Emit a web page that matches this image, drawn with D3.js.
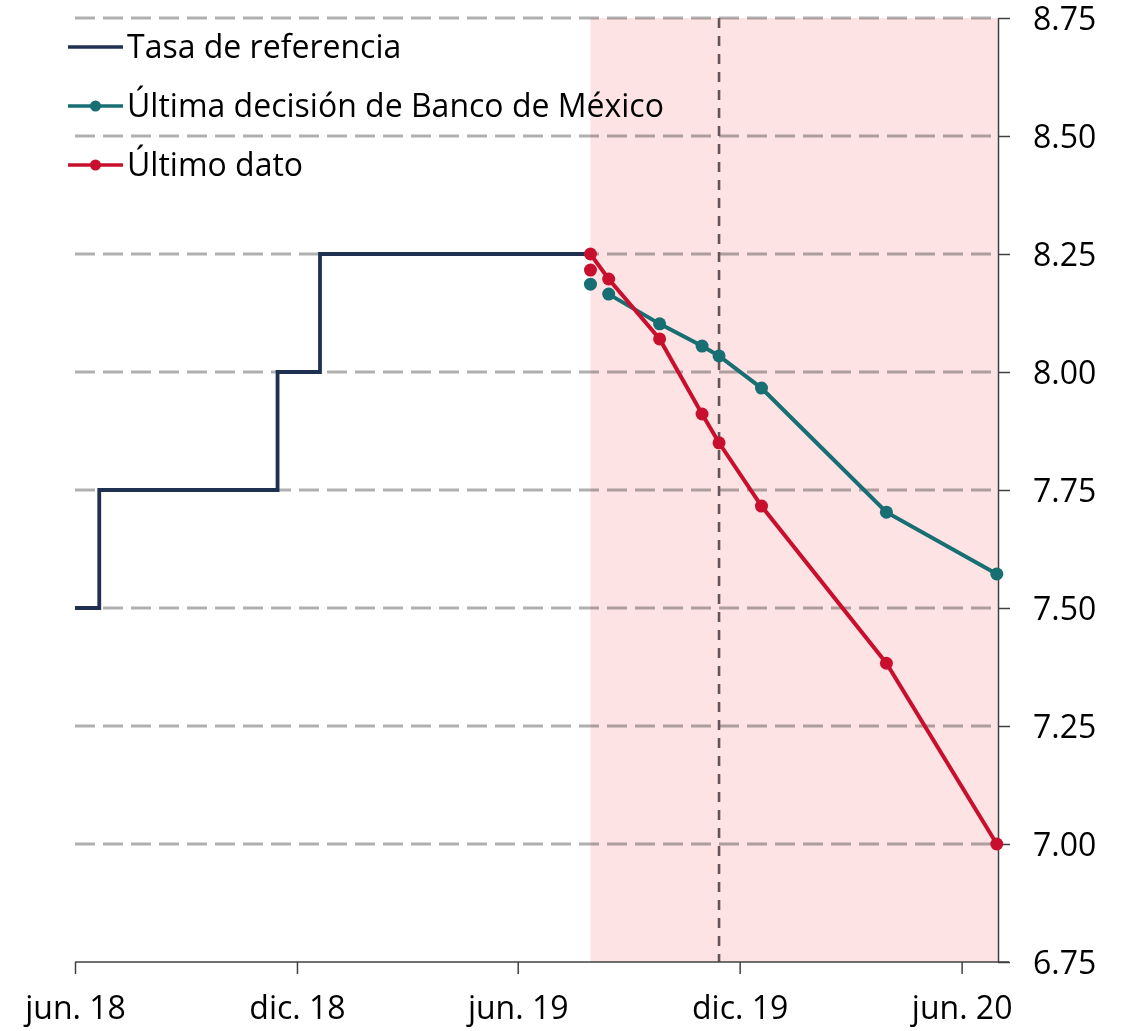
<!DOCTYPE html>
<html>
<head>
<meta charset="utf-8">
<script src="https://cdn.jsdelivr.net/npm/d3@7"></script>
<style>
  html, body { margin: 0; padding: 0; background: #fff; }
  svg { display: block; font-family: "Open Sans", sans-serif; }
</style>
</head>
<body>
<svg id="chart" width="1127" height="1031"></svg>
<script>
// Tasa de referencia (escalones por decisión de política monetaria)
const tasaFechas = ["2018-06-01", "2018-06-21", "2018-11-15", "2018-12-20", "2019-07-31"];
const tasaValores = [7.50, 7.75, 8.00, 8.25, 8.25];

// Trayectoria implícita: última decisión de Banco de México
const decisionFechas = ["2019-08-15", "2019-09-26", "2019-10-31", "2019-11-14", "2019-12-19", "2020-03-31", "2020-06-30"];
const decisionValores = [8.165, 8.102, 8.055, 8.034, 7.966, 7.703, 7.572];

// Trayectoria implícita: último dato
const ultimoFechas = ["2019-07-31", "2019-08-15", "2019-09-26", "2019-10-31", "2019-11-14", "2019-12-19", "2020-03-31", "2020-06-30"];
const ultimoValores = [8.25, 8.197, 8.07, 7.911, 7.85, 7.716, 7.383, 7.00];

// Puntos aislados al inicio del periodo sombreado
const inicioFecha = "2019-07-31";
const inicioDecision = 8.186;
const inicioUltimo = 8.216;

// Periodo sombreado y fecha de la última decisión
const sombraInicio = "2019-07-31";
const sombraFin = "2020-07-01";
const fechaDecision = "2019-11-14";

// Ejes
const xTickFechas = ["2018-06-01", "2018-12-01", "2019-06-01", "2019-12-01", "2020-06-01"];
const xTickEtiquetas = ["jun. 18", "dic. 18", "jun. 19", "dic. 19", "jun. 20"];
const yTicks = [6.75, 7.00, 7.25, 7.50, 7.75, 8.00, 8.25, 8.50, 8.75];

const legendNames = ["Tasa de referencia", "Última decisión de Banco de México", "Último dato"];

const colNavy = "#1f3050";
const colTeal = "#176e73";
const colRed = "#c8102e";

const parse = d3.utcParse("%Y-%m-%d");
const svg = d3.select("#chart");

const mLeft = 75, mRight = 998, mTop = 18, mBottom = 962;

const x = d3.scaleUtc()
  .domain([parse("2018-06-01"), parse(sombraFin)])
  .range([mLeft, mRight]);
const y = d3.scaleLinear().domain([6.75, 8.75]).range([mBottom, mTop]);

// Líneas de cuadrícula horizontales
const grid = svg.append("g");
grid.selectAll("line")
  .data(yTicks.filter(v => v > 6.75))
  .join("line")
  .attr("x1", mLeft).attr("x2", mRight)
  .attr("y1", d => y(d)).attr("y2", d => y(d))
  .attr("stroke", "#b0b0b0")
  .attr("stroke-width", 2.8)
  .attr("stroke-dasharray", "20,8");

// Periodo sombreado
svg.append("rect")
  .attr("x", x(parse(sombraInicio)))
  .attr("y", mTop)
  .attr("width", x(parse(sombraFin)) - x(parse(sombraInicio)))
  .attr("height", mBottom - mTop)
  .attr("fill", "#fde3e3")
  .style("mix-blend-mode", "multiply");

// Línea vertical: última decisión
svg.append("line")
  .attr("x1", x(parse(fechaDecision))).attr("x2", x(parse(fechaDecision)))
  .attr("y1", mTop).attr("y2", mBottom)
  .attr("stroke", "#65545a")
  .attr("stroke-width", 2.6)
  .attr("stroke-dasharray", "10,8");

// Ejes
const xAxis = d3.axisBottom(x)
  .tickValues(xTickFechas.map(parse))
  .tickFormat((d, i) => xTickEtiquetas[i])
  .tickSize(12)
  .tickSizeOuter(0);
const gx = svg.append("g").attr("transform", `translate(0,${mBottom})`).call(xAxis);
gx.select(".domain").attr("d", `M${mLeft},0H${mRight + 11}`).attr("stroke", "#404040").attr("stroke-width", 1.5);
gx.selectAll(".tick line").attr("stroke", "#404040").attr("stroke-width", 1.5);
gx.selectAll(".tick text")
  .attr("y", 57).attr("dy", null)
  .attr("font-size", 32).attr("font-family", "Open Sans").attr("fill", "#000");

const yAxis = d3.axisRight(y)
  .tickValues(yTicks)
  .tickFormat(d3.format(".2f"))
  .tickSize(12)
  .tickSizeOuter(0);
const gy = svg.append("g").attr("transform", `translate(${mRight},0)`).call(yAxis);
gy.select(".domain").attr("stroke", "#404040").attr("stroke-width", 1.5);
gy.selectAll(".tick line").attr("stroke", "#404040").attr("stroke-width", 1.5);
gy.selectAll(".tick text")
  .attr("x", 35).attr("dy", "0.36em")
  .attr("font-size", 32).attr("font-family", "Open Sans").attr("fill", "#000");

// Tasa de referencia (escalonada)
const tasa = tasaFechas.map((f, i) => ({ d: parse(f), v: tasaValores[i] }));
svg.append("path")
  .datum(tasa)
  .attr("fill", "none")
  .attr("stroke", colNavy)
  .attr("stroke-width", 3.8)
  .attr("d", d3.line().x(d => x(d.d)).y(d => y(d.v)).curve(d3.curveStepAfter));

// Series con marcadores
function serie(fechas, valores, color) {
  const data = fechas.map((f, i) => ({ d: parse(f), v: valores[i] }));
  const g = svg.append("g");
  g.append("path")
    .datum(data)
    .attr("fill", "none")
    .attr("stroke", color)
    .attr("stroke-width", 4)
    .attr("d", d3.line().x(d => x(d.d)).y(d => y(d.v)));
  g.selectAll("circle")
    .data(data)
    .join("circle")
    .attr("cx", d => x(d.d)).attr("cy", d => y(d.v))
    .attr("r", 6.5)
    .attr("fill", color);
}
serie(decisionFechas, decisionValores, colTeal);
serie(ultimoFechas, ultimoValores, colRed);

svg.append("circle")
  .attr("cx", x(parse(inicioFecha))).attr("cy", y(inicioDecision))
  .attr("r", 6.5).attr("fill", colTeal);
svg.append("circle")
  .attr("cx", x(parse(inicioFecha))).attr("cy", y(inicioUltimo))
  .attr("r", 6.5).attr("fill", colRed);

// Leyenda
const legendColors = [colNavy, colTeal, colRed];
const legend = svg.append("g");
legendNames.forEach((name, i) => {
  const ly = 47 + i * 59;
  legend.append("line")
    .attr("x1", 68).attr("x2", 123)
    .attr("y1", ly).attr("y2", ly)
    .attr("stroke", legendColors[i])
    .attr("stroke-width", 3.5);
  if (i > 0) {
    legend.append("circle")
      .attr("cx", 95.5).attr("cy", ly).attr("r", 5.5)
      .attr("fill", legendColors[i]);
  }
  legend.append("text")
    .attr("x", 127).attr("y", ly + 11)
    .attr("font-size", 32)
    .attr("fill", "#000")
    .text(name);
});
</script>
</body>
</html>
